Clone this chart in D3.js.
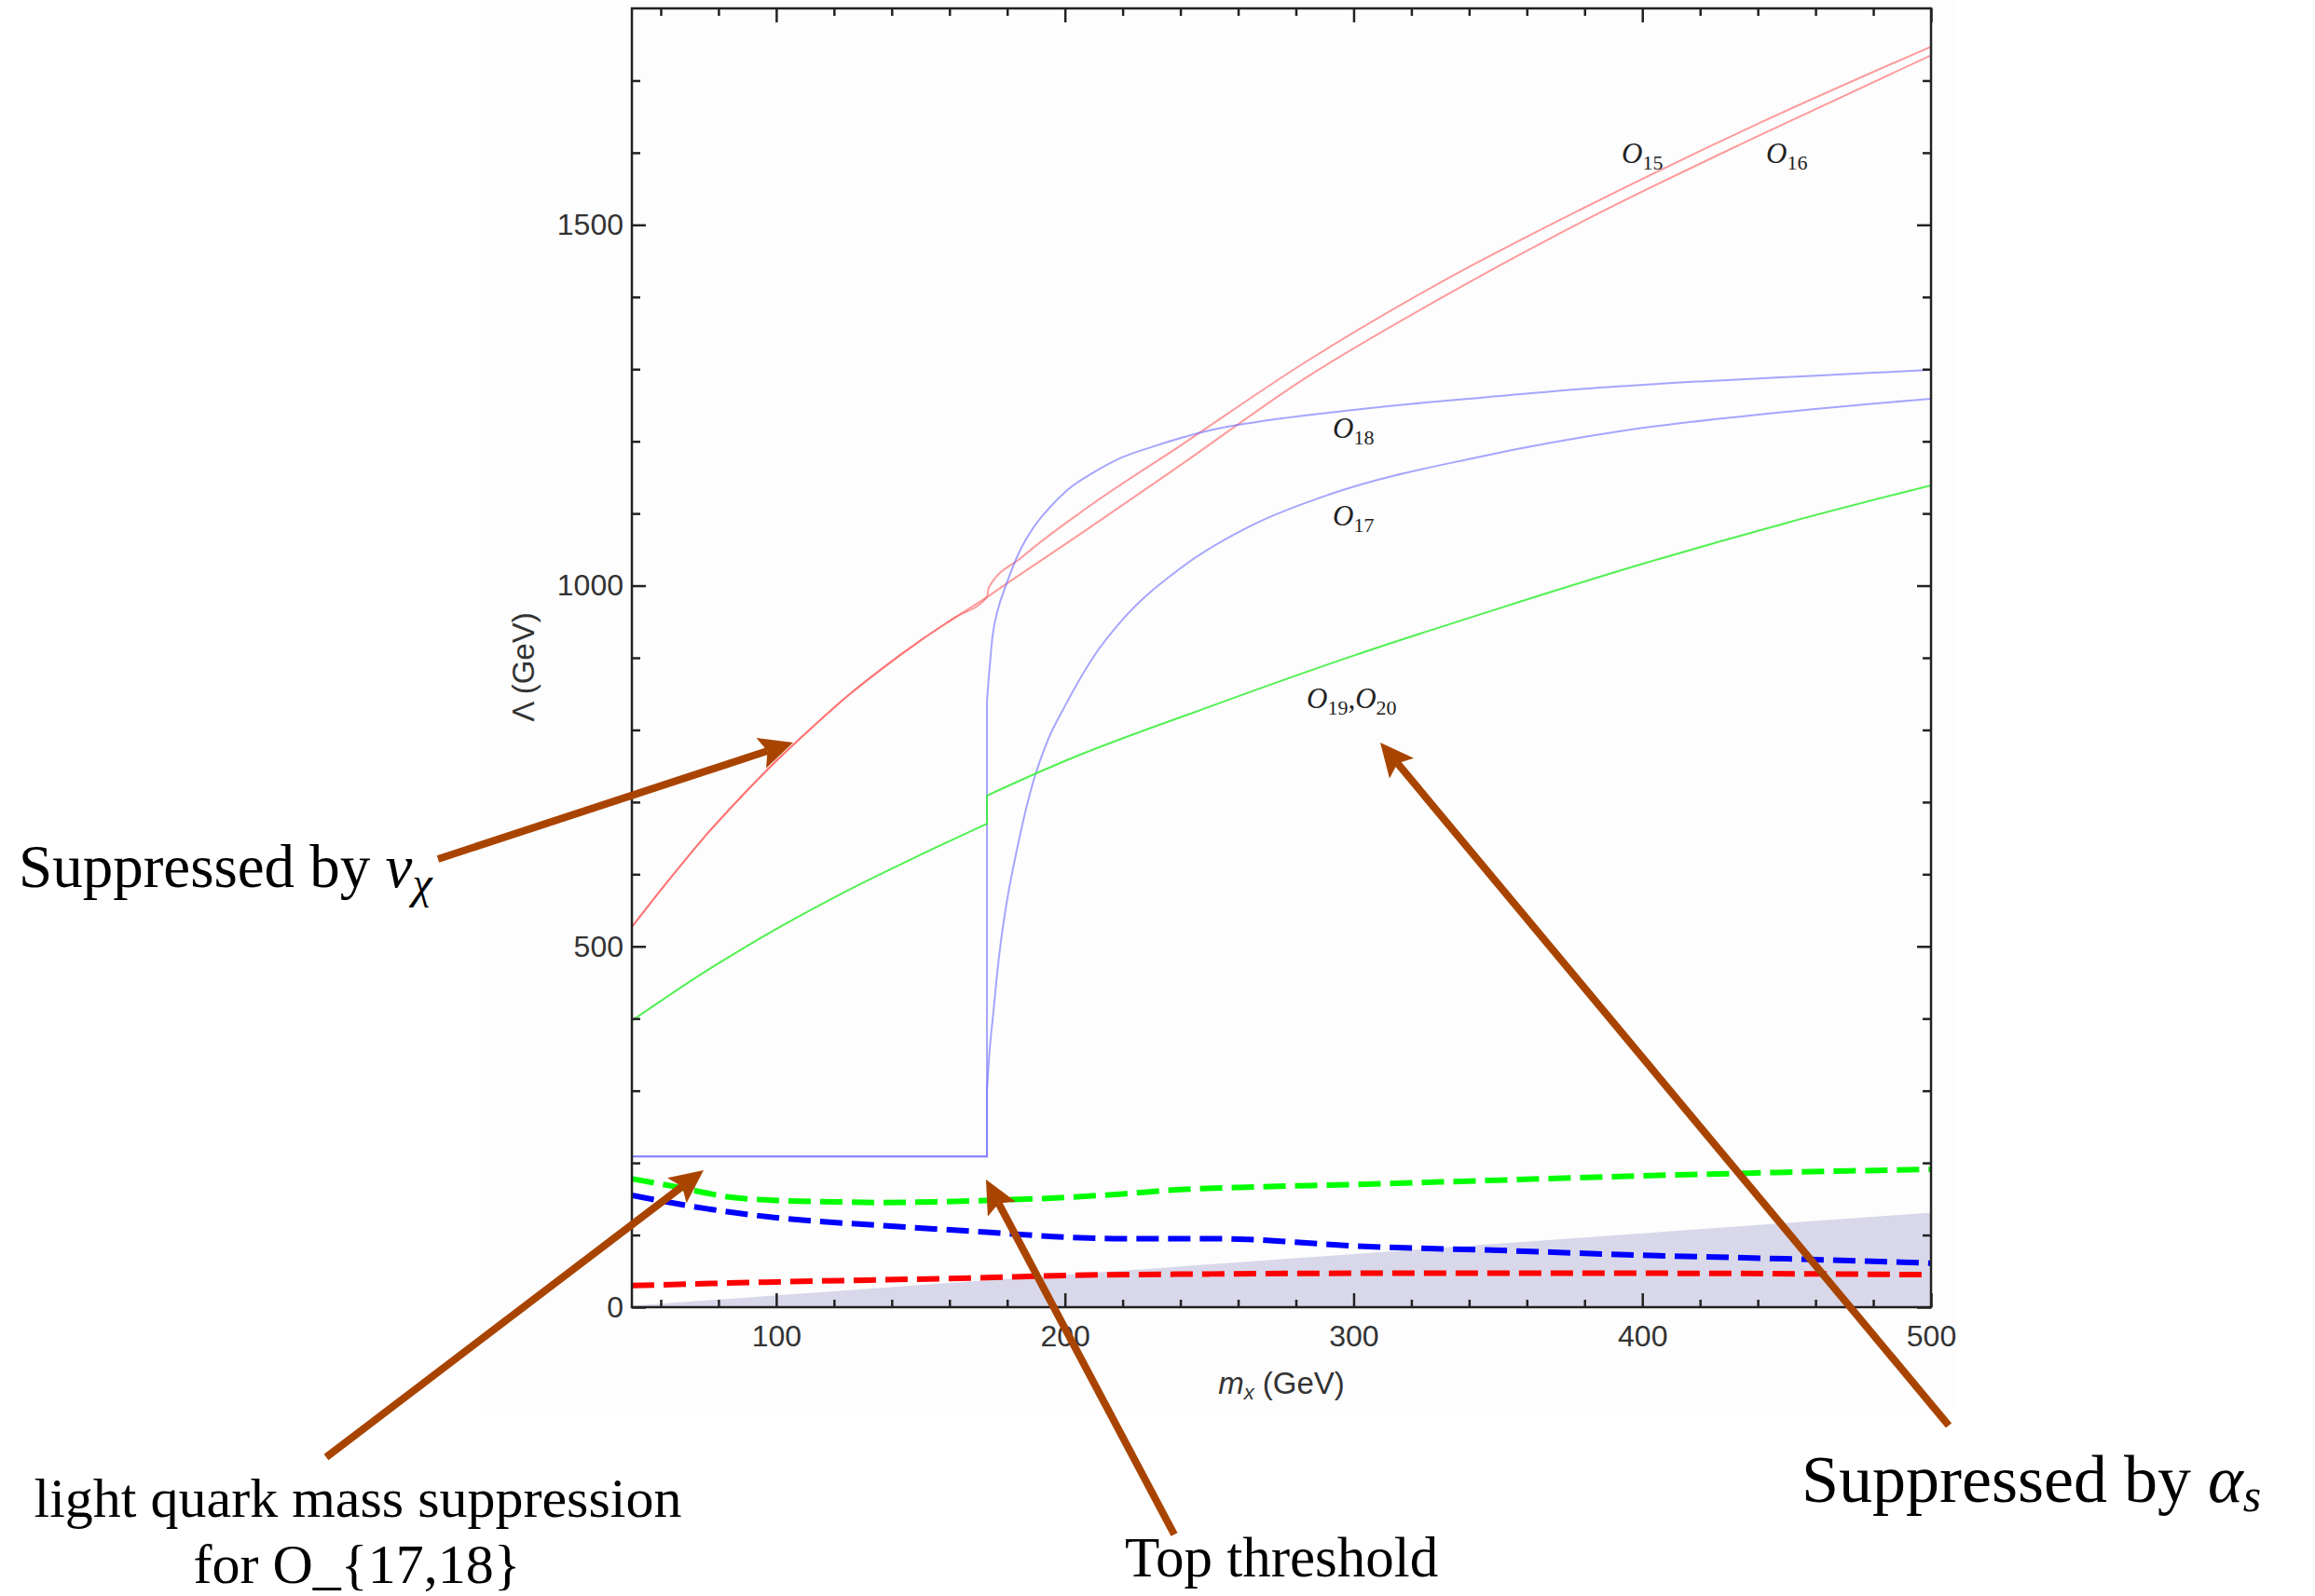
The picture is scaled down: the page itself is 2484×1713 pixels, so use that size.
<!DOCTYPE html>
<html>
<head>
<meta charset="utf-8">
<script src="https://cdn.jsdelivr.net/npm/d3@7"></script>
<style>
  body { margin: 0; background: #fff; }
  svg { display: block; }
</style>
</head>
<body>
<div id="chart"></div>
<script>
// values, [m_x (GeV), Lambda (GeV)]; the top threshold is at m_x = 173
const redBelowTop = [[50, 527], [62, 588], [75, 651], [88, 708], [100, 757], [112, 802], [125, 848],
  [137, 886], [150, 924], [162, 956], [173, 984]];
const o15Above = [[173.6, 997], [185, 1039], [207, 1106], [240, 1194], [283, 1309], [330, 1420],
  [380, 1524], [440, 1640], [500, 1747]];
const o16Above = [[181, 1006], [207, 1076], [240, 1167], [283, 1287], [330, 1398], [380, 1506],
  [440, 1623], [500, 1735]];

const blueBelowTop = [[50, 209], [173, 209]];
const o17Above = [[173, 300], [174, 360], [175, 400], [177, 480], [179, 540], [184, 646], [189, 728],
  [194, 785], [200, 833], [210, 902], [220, 953], [240, 1024], [266, 1086], [292, 1127], [343, 1178],
  [394, 1215], [445, 1239], [500, 1259]];
const o18Above = [[173, 840], [175, 932], [177, 970], [179, 994], [184, 1045], [189, 1080], [194, 1105],
  [201, 1133], [210, 1157], [220, 1178], [230, 1192], [250, 1215], [270, 1229], [292, 1240], [320, 1252],
  [343, 1260], [380, 1273], [420, 1283], [460, 1291], [500, 1299]];

const greenBelowTop = [[50, 397], [75, 464], [100, 524], [125, 578], [150, 627], [173, 670]];
const greenAbove = [[173, 709], [193, 745], [200, 757], [250, 832], [300, 903], [350, 968],
  [400, 1030], [450, 1087], [500, 1139]];

const limitGreen = [[50, 178], [65, 167], [85, 152], [100, 148], [120, 146], [137, 145], [155, 146],
  [173, 148], [200, 152], [220, 157], [240, 163], [260, 166], [300, 170], [350, 176], [400, 182],
  [450, 187], [500, 191]];
const limitBlue = [[50, 155], [75, 137], [100, 124], [137, 113], [173, 104], [200, 97], [220, 95],
  [250, 95], [263, 94], [280, 90], [300, 85], [348, 79], [400, 72], [450, 67], [500, 61]];
const limitRed = [[50, 30], [100, 35], [173, 41], [200, 44], [250, 46], [300, 47], [400, 47], [500, 45]];

const shaded = [[50, 2], [500, 131]];

const xMajor = [100, 200, 300, 400, 500];
const yMajor = [0, 500, 1000, 1500];

const W = 2484, H = 1713;
const plot = { left: 678, right: 2072, top: 9, bottom: 1403 };

const x = d3.scaleLinear().domain([50, 500]).range([plot.left, plot.right]);
const y = d3.scaleLinear().domain([0, 1800]).range([plot.bottom, plot.top]);

const xMinor = d3.range(60, 500, 20).filter(v => v % 100 !== 0);
const yMinor = d3.range(100, 1800, 100).filter(v => v % 500 !== 0);

const svg = d3.select('#chart').append('svg')
  .attr('width', W)
  .attr('height', H);

svg.append('rect').attr('width', W).attr('height', H).attr('fill', '#fff');
svg.append('rect')
  .attr('x', 515).attr('y', 0).attr('width', 1584).attr('height', 1513)
  .attr('fill', '#fdfdfd');

svg.append('clipPath').attr('id', 'clip')
  .append('rect')
  .attr('x', plot.left).attr('y', plot.top)
  .attr('width', plot.right - plot.left).attr('height', plot.bottom - plot.top);

const g = svg.append('g').attr('clip-path', 'url(#clip)');

const line = d3.line()
  .x(d => x(d[0]))
  .y(d => y(d[1]))
  .curve(d3.curveMonotoneX);

// smooth runs, joined by straight vertical jumps where x repeats (the top threshold)
function pathOf(pts) {
  const runs = [[pts[0]]];
  for (let i = 1; i < pts.length; i++) {
    if (pts[i][0] <= pts[i - 1][0]) runs.push([pts[i]]);
    else runs[runs.length - 1].push(pts[i]);
  }
  return runs.map((r, i) => {
    const d = line(r).replace(/Z$/, '');
    return i ? d.replace(/^M/, 'L') : d;
  }).join('');
}

const area = d3.area()
  .x(d => x(d[0]))
  .y0(y(0))
  .y1(d => y(d[1]));

g.append('path')
  .attr('d', area(shaded))
  .attr('fill', '#d8d8ea');

const solid = [
  { pts: redBelowTop.concat(o15Above), color: '#ff5a5a', op: 0.6 },
  { pts: redBelowTop.concat(o16Above), color: '#ff5a5a', op: 0.6 },
  { pts: blueBelowTop.concat(o17Above), color: '#6a6aff', op: 0.6 },
  { pts: blueBelowTop.concat(o18Above), color: '#6a6aff', op: 0.6 },
  { pts: greenBelowTop.concat(greenAbove), color: '#33ee33', op: 0.85 }
];

g.selectAll('path.solid')
  .data(solid)
  .enter()
  .append('path')
  .attr('class', 'solid')
  .attr('d', d => pathOf(d.pts))
  .attr('fill', 'none')
  .attr('stroke', d => d.color)
  .attr('stroke-opacity', d => d.op)
  .attr('stroke-width', 2);

const dashed = [
  { pts: limitGreen, color: '#00ff00' },
  { pts: limitBlue, color: '#0000ff' },
  { pts: limitRed, color: '#ff0000' }
];

g.selectAll('path.dashed')
  .data(dashed)
  .enter()
  .append('path')
  .attr('class', 'dashed')
  .attr('d', d => line(d.pts))
  .attr('fill', 'none')
  .attr('stroke', d => d.color)
  .attr('stroke-width', 6)
  .attr('stroke-dasharray', '24,10');

// frame with ticks on all four sides, pointing inwards
const tickColor = '#222';
function ticks(axis, transform, values, size, pad) {
  const a = svg.append('g')
    .attr('transform', transform)
    .call(axis.tickValues(values).tickSize(-size).tickPadding(pad || 0)
      .tickFormat(pad ? d3.format('d') : ''));
  a.select('.domain').remove();
  a.selectAll('line').attr('stroke', tickColor).attr('stroke-width', 2.5);
  a.selectAll('text')
    .attr('fill', '#333')
    .style('font-family', '"Liberation Sans", Arial, sans-serif')
    .style('font-size', '32px');
  return a;
}

ticks(d3.axisBottom(x), `translate(0,${plot.bottom})`, xMinor, 8);
ticks(d3.axisBottom(x), `translate(0,${plot.bottom})`, xMajor, 15, 19);
ticks(d3.axisTop(x), `translate(0,${plot.top})`, xMinor, 8);
ticks(d3.axisTop(x), `translate(0,${plot.top})`, xMajor, 15);
ticks(d3.axisLeft(y), `translate(${plot.left},0)`, yMinor, 9);
ticks(d3.axisLeft(y), `translate(${plot.left},0)`, yMajor, 15, 9);
ticks(d3.axisRight(y), `translate(${plot.right},0)`, yMinor, 9);
ticks(d3.axisRight(y), `translate(${plot.right},0)`, yMajor, 15);

svg.append('rect')
  .attr('x', plot.left).attr('y', plot.top)
  .attr('width', plot.right - plot.left).attr('height', plot.bottom - plot.top)
  .attr('fill', 'none')
  .attr('stroke', tickColor)
  .attr('stroke-width', 2.5);

// axis titles
const sans = '"Liberation Sans", Arial, sans-serif';
svg.append('text')
  .attr('transform', 'translate(561,716) rotate(-90)')
  .attr('text-anchor', 'middle')
  .attr('dominant-baseline', 'central')
  .attr('fill', '#333')
  .style('font-family', sans)
  .style('font-size', '33px')
  .text('Λ (GeV)');

const xt = svg.append('text')
  .attr('x', 1375).attr('y', 1496)
  .attr('text-anchor', 'middle')
  .attr('fill', '#333')
  .style('font-family', sans)
  .style('font-size', '33px');
xt.append('tspan').style('font-style', 'italic').text('m');
xt.append('tspan').style('font-style', 'italic').style('font-size', '22px').attr('dy', 6).text('x');
xt.append('tspan').attr('dy', -6).text(' (GeV)');

// operator labels
const serif = '"Liberation Serif", "Times New Roman", serif';
const opLabels = [
  { x: 1740, y: 175, parts: [['O', '15']] },
  { x: 1895, y: 175, parts: [['O', '16']] },
  { x: 1430, y: 470, parts: [['O', '18']] },
  { x: 1430, y: 564, parts: [['O', '17']] },
  { x: 1402, y: 760, parts: [['O', '19'], [',O', '20']] }
];
opLabels.forEach(l => {
  const t = svg.append('text')
    .attr('x', l.x).attr('y', l.y)
    .attr('fill', '#222')
    .style('font-family', serif)
    .style('font-size', '31px');
  l.parts.forEach(([main, sub], i) => {
    t.append('tspan').style('font-style', 'italic').attr('dy', i ? -7 : 0).text(main);
    t.append('tspan').style('font-size', '22px').attr('dy', 7).text(sub);
  });
});

// annotation arrows
const arrowColor = '#a94400';
const arrows = [
  { from: [470, 922], to: [851, 797] },
  { from: [350, 1564], to: [755, 1256] },
  { from: [1260, 1647], to: [1058, 1266] },
  { from: [2091, 1530], to: [1481, 797] }
];
const headLen = 36, headHalf = 17, notch = 7;
arrows.forEach(a => {
  const dx = a.to[0] - a.from[0], dy = a.to[1] - a.from[1];
  const len = Math.hypot(dx, dy);
  const ux = dx / len, uy = dy / len, nx = -uy, ny = ux;
  const [tx, ty] = a.to;
  const bx = tx - (headLen - notch) * ux, by = ty - (headLen - notch) * uy;
  svg.append('line')
    .attr('x1', a.from[0]).attr('y1', a.from[1])
    .attr('x2', bx).attr('y2', by)
    .attr('stroke', arrowColor)
    .attr('stroke-width', 8);
  const head = [
    [tx, ty],
    [tx - headLen * ux + headHalf * nx, ty - headLen * uy + headHalf * ny],
    [bx, by],
    [tx - headLen * ux - headHalf * nx, ty - headLen * uy - headHalf * ny]
  ];
  svg.append('path')
    .attr('d', 'M' + head.map(p => p.join(',')).join('L') + 'Z')
    .attr('fill', arrowColor);
});

// annotation texts
function note(xp, yp, size, anchor) {
  return svg.append('text')
    .attr('x', xp).attr('y', yp)
    .attr('text-anchor', anchor || 'start')
    .attr('fill', '#000')
    .style('font-family', serif)
    .style('font-size', size + 'px');
}

const n1 = note(20, 952, 65);
n1.append('tspan').text('Suppressed by ');
n1.append('tspan').style('font-style', 'italic').text('v');
n1.append('tspan').style('font-style', 'italic').style('font-size', '48px').attr('dy', 12).text('χ');

note(384, 1628, 60, 'middle').text('light quark mass suppression');
note(383, 1699, 60, 'middle').text('for O_{17,18}');

note(1207, 1692, 61).text('Top threshold');

const n4 = note(1933, 1612, 72);
n4.append('tspan').text('Suppressed by ');
n4.append('tspan').style('font-style', 'italic').text('α');
n4.append('tspan').style('font-style', 'italic').style('font-size', '50px').attr('dy', 10).text('s');
</script>
</body>
</html>
